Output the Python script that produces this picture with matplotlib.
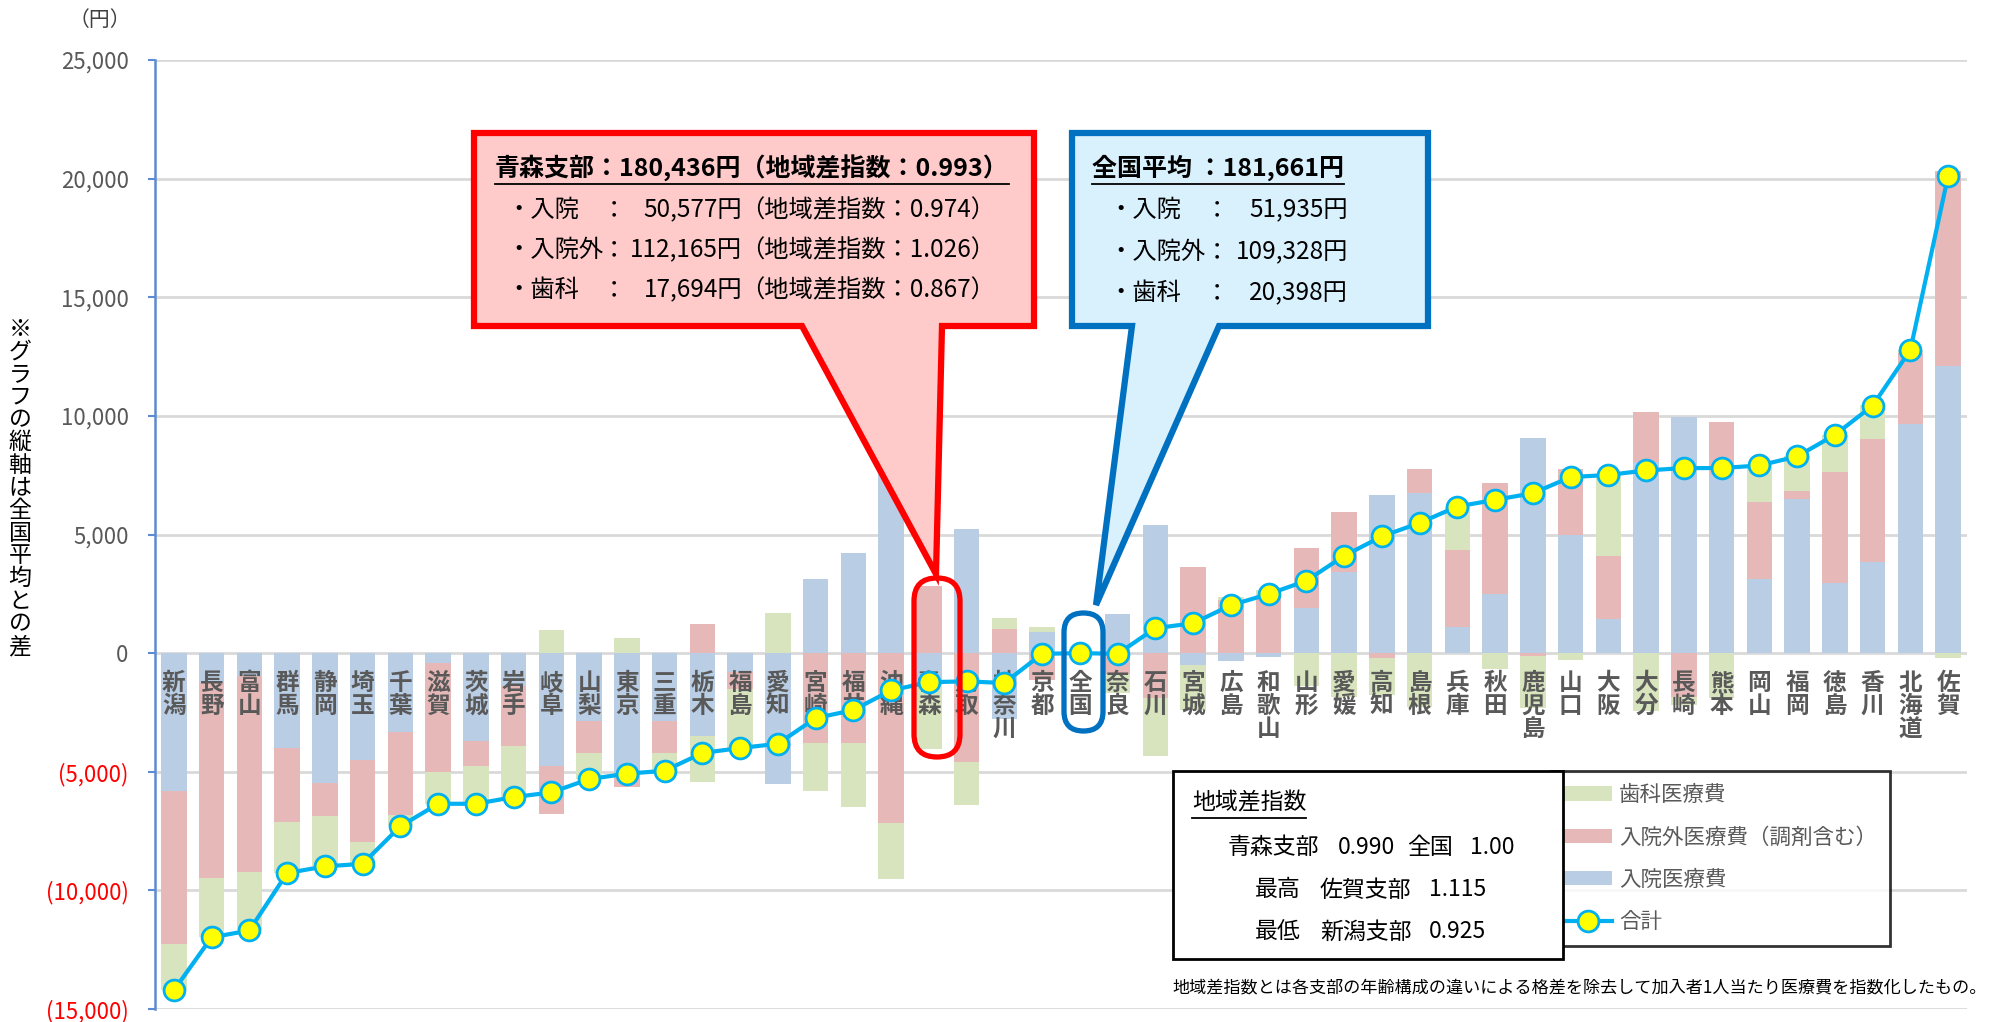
import matplotlib
matplotlib.use('Agg')
import matplotlib.pyplot as plt
import numpy as np
from matplotlib.patches import Polygon, FancyBboxPatch, Rectangle
from matplotlib.transforms import Affine2D
from matplotlib.lines import Line2D

plt.rcParams['font.family'] = ['Noto Sans CJK JP', 'DejaVu Sans']

# ---------------- data (difference from national average, yen) ----------------
prefectures = ['新潟', '長野', '富山', '群馬', '静岡', '埼玉', '千葉', '滋賀', '茨城', '岩手',
               '岐阜', '山梨', '東京', '三重', '栃木', '福島', '愛知', '宮崎', '福井', '沖縄',
               '青森', '鳥取', '神奈川', '京都', '全国', '奈良', '石川', '宮城', '広島', '和歌山',
               '山形', '愛媛', '高知', '島根', '兵庫', '秋田', '鹿児島', '山口', '大阪', '大分',
               '長崎', '熊本', '岡山', '福岡', '徳島', '香川', '北海道', '佐賀']
inpatient = [-5830, -1260, -980, -4000, -5480, -4490, -3340, -420, -3690, -1400,
             -4750, -2880, -5200, -2880, -3480, -800, -5500, 3120, 4210, 7950,
             -1358, 5230, -2760, 890, 0, 1640, 5380, -490, -350, -160,
             1900, 3440, 6670, 6740, 1120, 2490, 9060, 4960, 1450, 8070,
             9970, 7500, 3120, 6500, 2950, 3860, 9660, 12120]
outpatient = [-6420, -8220, -8250, -3120, -1370, -3450, -3470, -4570, -1060, -2500,
              -2030, -1330, -450, -1330, 1240, -700, -30, -3790, -3790, -7160,
              2837, -4610, 1000, -1130, 0, -900, -1900, 3650, 2240, 2400,
              2550, 2490, -210, 1030, 3230, 4700, -140, 2810, 2650, 2110,
              -1830, 2260, 3240, 350, 4700, 5160, 3000, 8220]
dental = [-1960, -2500, -2460, -2150, -2140, -940, -490, -1360, -1600, -2170,
          955, -1100, 630, -750, -1970, -2500, 1710, -2010, -2710, -2360,
          -2704, -1790, 500, 210, 0, -770, -2430, -1900, 140, 250,
          -1400, -1830, -1540, -2280, 1830, -670, -2180, -310, 3410, -2450,
          -340, -1900, 1550, 1440, 1560, 1420, 120, -210]
total = [-14210, -11980, -11690, -9270, -8990, -8880, -7300, -6350, -6350, -6070,
         -5870, -5310, -5080, -4960, -4210, -4000, -3820, -2740, -2400, -1570,
         -1225, -1190, -1260, -30, 0, -30, 1050, 1260, 2020, 2490,
         3050, 4100, 4920, 5490, 6180, 6460, 6740, 7420, 7510, 7700,
         7800, 7800, 7910, 8290, 9200, 10430, 12780, 20110]
yticks = list(range(-15000, 25001, 5000))

W, H = 2007, 1022
fig = plt.figure(figsize=(W / 100, H / 100), dpi=100)
pxT = Affine2D().scale(1 / W, -1 / H).translate(0, 1) + fig.transFigure

ax = fig.add_axes([155 / W, 1 - 1009 / H, (1967 - 155) / W, (1009 - 60) / H])
n = len(prefectures)
x = np.arange(n)

series = [(inpatient, '#B9CDE5', '入院医療費'),
          (outpatient, '#E6B9B8', '入院外医療費（調剤含む）'),
          (dental, '#D7E4BD', '歯科医療費')]
pos_base = np.zeros(n)
neg_base = np.zeros(n)
bar_handles = []
for vals, col, lab in series:
    v = np.array(vals, dtype=float)
    bottom = np.where(v >= 0, pos_base, neg_base)
    bc = ax.bar(x, v, bottom=bottom, width=0.68, color=col, label=lab, zorder=2, linewidth=0)
    bar_handles.append(bc)
    pos_base += np.where(v >= 0, v, 0)
    neg_base += np.where(v < 0, v, 0)

line, = ax.plot(x, total, color='#00B0F0', lw=3, marker='o', ms=15,
                mfc='#FFFF00', mec='#00B0F0', mew=2, zorder=5, label='合計')

# category labels (vertical writing)
for i, name in enumerate(prefectures):
    ax.annotate('\n'.join(name), xy=(i, 0), xycoords='data', xytext=(0, -13),
                textcoords='offset points', ha='center', va='top', fontsize=17,
                fontweight='bold', color='#595959', linespacing=0.95, zorder=3)

ax.set_xlim(-0.5, n - 0.5)
ax.set_ylim(-15000, 25000)
ax.set_yticks(yticks)


def fmt(v):
    if v > 0:
        return f'{v:,}'
    if v < 0:
        return f'({-v:,})'
    return '0'


ax.set_yticklabels([fmt(v) for v in yticks])
for lab, v in zip(ax.get_yticklabels(), yticks):
    lab.set_color('#FF0000' if v < 0 else '#595959')
ax.set_xticks([])
ax.tick_params(axis='y', direction='out', length=5, width=1.5, color='#5B8BD0',
               pad=14, labelsize=16)
ax.yaxis.grid(True, color='#D9D9D9', lw=2)
ax.set_axisbelow(True)
for s in ['top', 'right', 'bottom']:
    ax.spines[s].set_visible(False)
ax.spines['left'].set_color('#5B8BD0')
ax.spines['left'].set_linewidth(1.8)

# legend
leg = ax.legend(handles=[bar_handles[2], bar_handles[1], bar_handles[0], line],
                loc='upper left', bbox_to_anchor=(1551 / W, 1 - 771 / H),
                bbox_transform=fig.transFigure, fontsize=15.5, frameon=True,
                fancybox=False, edgecolor='black', borderpad=0.6, labelspacing=0.95,
                handlelength=2.25, handleheight=0.65, handletextpad=0.3, borderaxespad=0)
leg.get_frame().set_linewidth(2)
for t in leg.get_texts():
    t.set_color('#595959')
leg.set_zorder(7)

# table box of regional index
fig.add_artist(Rectangle((1173, 771), 1563 - 1173, 959 - 771, transform=pxT,
                         facecolor='white', edgecolor='black', lw=2, zorder=8))
tab_texts = [('地域差指数', 1192, 803),
             ('青森支部', 1228, 847), ('0.990', 1338, 847), ('全国', 1407, 847), ('1.00', 1470, 847),
             ('最高', 1255, 890), ('佐賀支部', 1320, 890), ('1.115', 1429, 890),
             ('最低', 1255, 932), ('新潟支部', 1320, 932), ('0.925', 1429, 932)]
tab_artists = []
for s, tx, ty in tab_texts:
    tab_artists.append(fig.text(tx, ty, s, transform=pxT, fontsize=16.5, ha='left',
                                va='center', color='black', zorder=9))

# footnote
fig.text(1172, 987, '地域差指数とは各支部の年齢構成の違いによる格差を除去して加入者1人当たり医療費を指数化したもの。',
         transform=pxT, fontsize=12.3, ha='left', va='center', color='black')

# y label and unit
fig.text(20, 488, '\n'.join('※グラフの縦軸は全国平均との差'), transform=pxT, fontsize=16.5,
         ha='center', va='center', linespacing=0.98, color='black')
fig.text(100, 20, '（円）', transform=pxT, fontsize=15, ha='center', va='center', color='#404040')

# red callout (Aomori)
red_poly = [(474, 133), (1034, 133), (1034, 326), (942, 326), (936, 574), (802, 326), (474, 326)]
fig.add_artist(Polygon(red_poly, closed=True, transform=pxT, facecolor='#FFCACA',
                       edgecolor='#FF0000', lw=4.5, joinstyle='miter', zorder=6))
# blue callout (national)
blue_poly = [(1072, 133), (1428, 133), (1428, 326), (1219, 326), (1096, 605), (1132, 326), (1072, 326)]
fig.add_artist(Polygon(blue_poly, closed=True, transform=pxT, facecolor='#D9F0FD',
                       edgecolor='#0070C0', lw=4.5, joinstyle='miter', zorder=6))
# stadium outlines
fig.add_artist(FancyBboxPatch((914, 578), 46, 179, boxstyle='round,pad=0,rounding_size=23',
                              transform=pxT, facecolor='none', edgecolor='#FF0000', lw=3.8, zorder=6))
fig.add_artist(FancyBboxPatch((1064, 613), 39, 118, boxstyle='round,pad=0,rounding_size=19.5',
                              transform=pxT, facecolor='none', edgecolor='#0070C0', lw=3.8, zorder=6))

fs = 17.5
red_title = fig.text(495, 168, '青森支部：180,436円（地域差指数：0.993）', transform=pxT, fontsize=18,
                     fontweight='bold', ha='left', va='center', color='black', zorder=7)
red_rows = [('・入院', '50,577円', '（地域差指数：0.974）', 210),
            ('・入院外', '112,165円', '（地域差指数：1.026）', 250),
            ('・歯科', '17,694円', '（地域差指数：0.867）', 290)]
for lab, val, idx, ty in red_rows:
    fig.text(506, ty, lab, transform=pxT, fontsize=fs, ha='left', va='center', zorder=7)
    fig.text(614, ty, '：', transform=pxT, fontsize=fs, ha='center', va='center', zorder=7)
    fig.text(742, ty, val, transform=pxT, fontsize=fs, ha='right', va='center', zorder=7)
    fig.text(740, ty, idx, transform=pxT, fontsize=fs, ha='left', va='center', zorder=7)

blue_title = fig.text(1092, 168, '全国平均 ：181,661円', transform=pxT, fontsize=18,
                      fontweight='bold', ha='left', va='center', color='black', zorder=7)
blue_rows = [('・入院', '51,935円', 210), ('・入院外', '109,328円', 252), ('・歯科', '20,398円', 293)]
for lab, val, ty in blue_rows:
    fig.text(1108, ty, lab, transform=pxT, fontsize=fs, ha='left', va='center', zorder=7)
    fig.text(1217, ty, '：', transform=pxT, fontsize=fs, ha='center', va='center', zorder=7)
    fig.text(1348, ty, val, transform=pxT, fontsize=fs, ha='right', va='center', zorder=7)

# underlines
fig.canvas.draw()
renderer = fig.canvas.get_renderer()
for t, uy in [(red_title, 184), (blue_title, 184), (tab_artists[0], 818)]:
    bb = t.get_window_extent(renderer)
    x0 = bb.x0 / W
    x1 = bb.x1 / W
    yy = 1 - uy / H
    fig.add_artist(Line2D([x0, x1], [yy, yy], transform=fig.transFigure, color='black',
                          lw=1.3, zorder=9))

fig.savefig('out.png', dpi=100)
